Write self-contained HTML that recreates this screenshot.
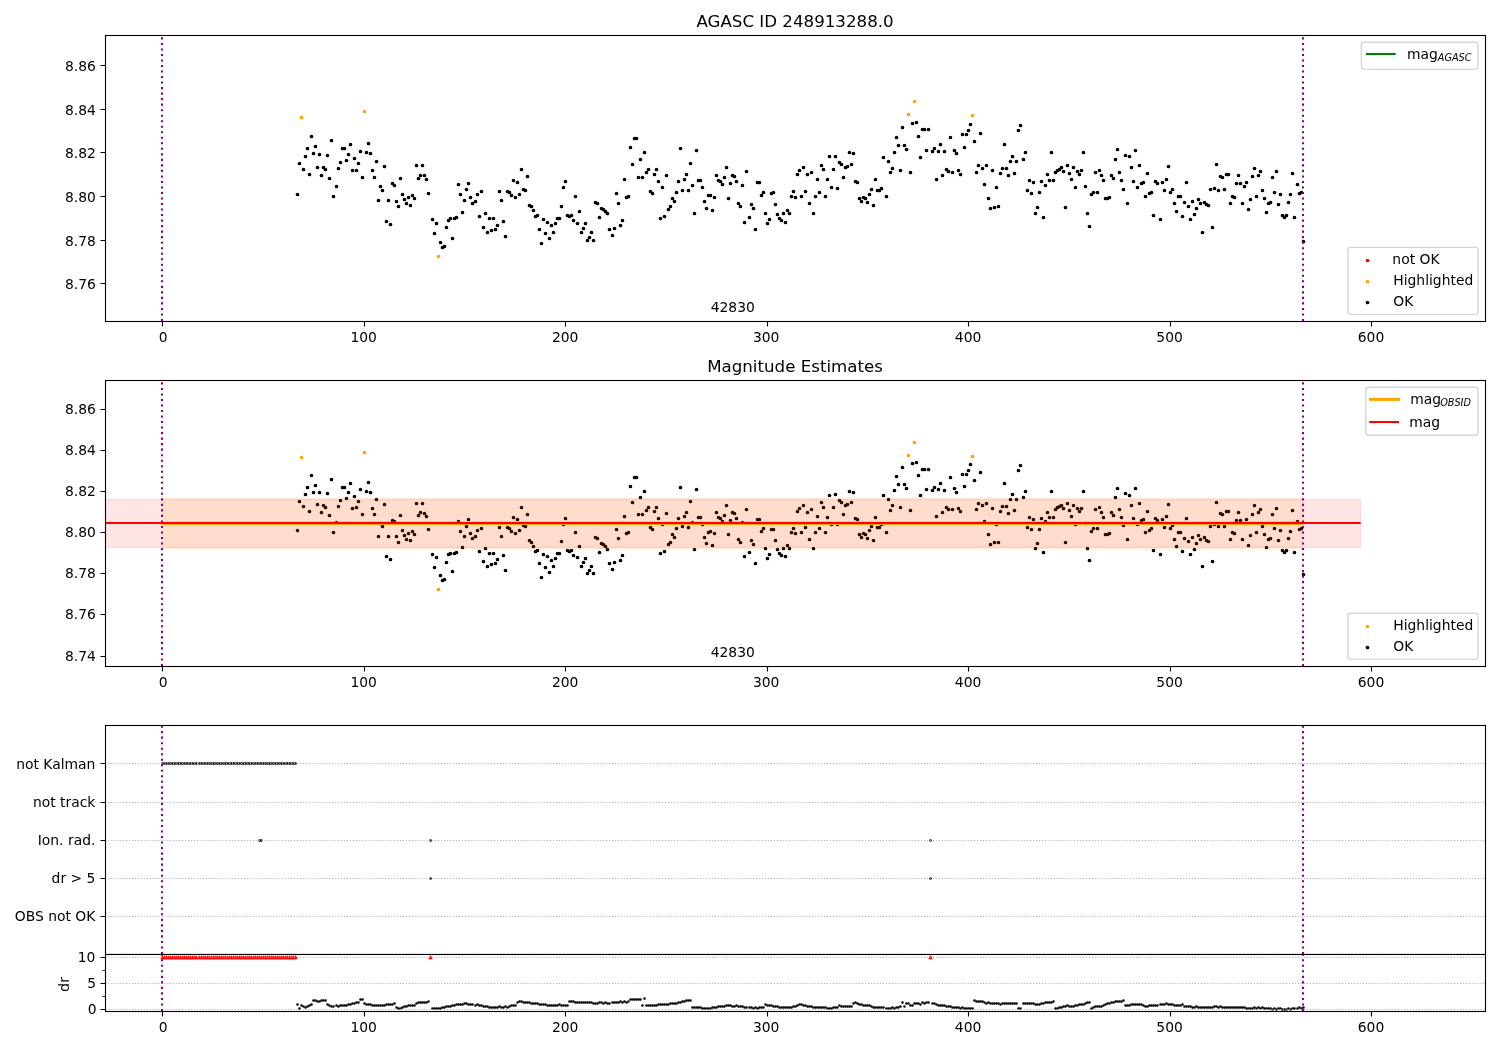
<!DOCTYPE html>
<html lang="en">
<head>
<meta charset="utf-8">
<title>AGASC ID 248913288.0 magnitude estimates</title>
<style>html,body{margin:0;padding:0;background:#fff}body{width:1500px;height:1050px;overflow:hidden}svg{display:block}</style>
</head>
<body>
<svg width="1500" height="1050" viewBox="0 0 1500 1050" font-family="'DejaVu Sans','Liberation Sans',sans-serif" fill="#000">
<rect width="1500" height="1050" fill="#fff"/>
<g id="panel1">
<path d="M301.5 117.5h0M438.5 256.5h0M914.5 101.5h0" stroke="#ffa500" stroke-width="3.7" stroke-linecap="round" fill="none"/>
<path d="M364.5 111.5h0M908.5 114.5h0M972.5 115.5h0" stroke="#ffa500" stroke-width="3.7" stroke-linecap="round" fill="none"/>
<path d="M297.5 194.5h0M303.5 169.5h0M307.5 148.5h0M311.5 136.5h0M315.5 146.5h0M319.5 154.5h0M323.5 167.5h0M327.5 155.5h0M331.5 140.5h0M336.5 186.5h0M340.5 162.5h0M344.5 148.5h0M348.5 154.5h0M352.5 170.5h0M356.5 170.5h0M360.5 151.5h0M366.5 152.5h0M370.5 153.5h0M374.5 177.5h0M378.5 200.5h0M382.5 190.5h0M386.5 221.5h0M390.5 224.5h0M394.5 185.5h0M398.5 206.5h0M402.5 194.5h0M406.5 203.5h0M410.5 205.5h0M414.5 198.5h0M418.5 178.5h0M422.5 165.5h0M426.5 179.5h0M432.5 219.5h0M436.5 223.5h0M442.5 247.5h0M446.5 227.5h0M450.5 218.5h0M454.5 218.5h0M458.5 184.5h0M462.5 212.5h0M466.5 189.5h0M470.5 197.5h0M475.5 201.5h0M479.5 216.5h0M483.5 227.5h0M487.5 232.5h0M491.5 230.5h0M495.5 229.5h0M499.5 191.5h0M503.5 221.5h0M507.5 191.5h0M511.5 195.5h0M515.5 197.5h0M519.5 194.5h0M523.5 189.5h0M527.5 176.5h0M531.5 206.5h0M535.5 216.5h0M539.5 229.5h0M543.5 219.5h0M547.5 222.5h0M551.5 225.5h0M555.5 223.5h0M559.5 218.5h0M563.5 187.5h0M567.5 215.5h0M571.5 215.5h0M575.5 196.5h0M579.5 211.5h0M583.5 228.5h0M587.5 240.5h0M591.5 232.5h0M595.5 202.5h0M599.5 217.5h0M603.5 209.5h0M607.5 213.5h0M612.5 235.5h0M616.5 193.5h0M620.5 225.5h0M624.5 179.5h0M628.5 196.5h0M632.5 164.5h0M636.5 138.5h0M640.5 159.5h0M644.5 152.5h0M648.5 169.5h0M652.5 193.5h0M656.5 169.5h0M660.5 218.5h0M664.5 216.5h0M668.5 209.5h0M672.5 198.5h0M676.5 192.5h0M680.5 148.5h0M684.5 179.5h0M688.5 190.5h0M692.5 185.5h0M696.5 150.5h0M700.5 180.5h0M704.5 201.5h0M708.5 195.5h0M712.5 210.5h0M716.5 175.5h0M720.5 181.5h0M724.5 177.5h0M728.5 198.5h0M732.5 175.5h0M736.5 181.5h0M740.5 206.5h0M744.5 222.5h0M749.5 217.5h0M753.5 208.5h0M757.5 182.5h0M761.5 195.5h0M765.5 213.5h0M769.5 219.5h0M773.5 192.5h0M777.5 214.5h0M781.5 220.5h0M785.5 222.5h0M789.5 213.5h0M793.5 191.5h0M797.5 174.5h0M801.5 196.5h0M805.5 191.5h0M809.5 203.5h0M813.5 213.5h0M817.5 179.5h0M821.5 165.5h0M825.5 196.5h0M829.5 156.5h0M833.5 169.5h0M837.5 188.5h0M841.5 164.5h0M845.5 167.5h0M849.5 152.5h0M853.5 153.5h0M857.5 182.5h0M861.5 201.5h0M865.5 198.5h0M869.5 194.5h0M873.5 205.5h0M877.5 190.5h0M881.5 188.5h0M886.5 196.5h0M890.5 172.5h0M894.5 152.5h0M898.5 145.5h0M902.5 127.5h0M906.5 149.5h0M912.5 123.5h0M918.5 136.5h0M922.5 129.5h0M926.5 150.5h0M932.5 151.5h0M936.5 179.5h0M940.5 144.5h0M944.5 151.5h0M948.5 171.5h0M952.5 172.5h0M956.5 153.5h0M960.5 174.5h0M964.5 147.5h0M968.5 130.5h0M974.5 141.5h0M978.5 165.5h0M982.5 168.5h0M986.5 165.5h0M990.5 208.5h0M994.5 207.5h0M998.5 206.5h0M1002.5 168.5h0M1006.5 168.5h0M1010.5 161.5h0M1014.5 173.5h0M1018.5 130.5h0M1023.5 159.5h0M1027.5 190.5h0M1031.5 193.5h0M1035.5 213.5h0M1039.5 192.5h0M1043.5 217.5h0M1047.5 174.5h0M1051.5 152.5h0M1055.5 172.5h0M1059.5 169.5h0M1063.5 171.5h0M1067.5 165.5h0M1071.5 179.5h0M1075.5 187.5h0M1079.5 174.5h0M1083.5 152.5h0M1087.5 213.5h0M1091.5 194.5h0M1095.5 172.5h0M1099.5 170.5h0M1103.5 180.5h0M1107.5 198.5h0M1111.5 175.5h0M1115.5 159.5h0M1119.5 172.5h0M1123.5 189.5h0M1127.5 203.5h0M1131.5 167.5h0M1135.5 150.5h0M1139.5 165.5h0M1143.5 182.5h0M1147.5 173.5h0M1151.5 192.5h0M1155.5 181.5h0M1160.5 219.5h0M1164.5 190.5h0M1168.5 166.5h0M1172.5 189.5h0M1176.5 211.5h0M1180.5 196.5h0M1184.5 202.5h0M1188.5 206.5h0M1192.5 201.5h0M1196.5 208.5h0M1200.5 203.5h0M1204.5 202.5h0M1208.5 205.5h0M1212.5 227.5h0M1216.5 164.5h0M1220.5 176.5h0M1224.5 189.5h0M1228.5 174.5h0M1232.5 196.5h0M1236.5 183.5h0M1240.5 183.5h0M1244.5 186.5h0M1248.5 209.5h0M1252.5 176.5h0M1256.5 196.5h0M1260.5 171.5h0M1264.5 198.5h0M1268.5 203.5h0M1272.5 177.5h0M1276.5 171.5h0M1280.5 194.5h0M1284.5 217.5h0M1288.5 202.5h0M1292.5 173.5h0M1297.5 184.5h0M1301.5 192.5h0" stroke="#000" stroke-width="3.7" stroke-linecap="round" fill="none"/>
<path d="M299.5 163.5h0M305.5 156.5h0M309.5 174.5h0M313.5 153.5h0M317.5 167.5h0M321.5 175.5h0M325.5 169.5h0M329.5 178.5h0M333.5 196.5h0M338.5 168.5h0M342.5 148.5h0M346.5 160.5h0M350.5 144.5h0M354.5 158.5h0M358.5 163.5h0M362.5 177.5h0M368.5 143.5h0M372.5 170.5h0M376.5 161.5h0M380.5 186.5h0M384.5 166.5h0M388.5 200.5h0M392.5 183.5h0M396.5 201.5h0M400.5 178.5h0M404.5 199.5h0M408.5 197.5h0M412.5 195.5h0M416.5 165.5h0M420.5 175.5h0M424.5 175.5h0M428.5 193.5h0M434.5 233.5h0M440.5 242.5h0M444.5 246.5h0M448.5 220.5h0M452.5 238.5h0M456.5 217.5h0M460.5 194.5h0M464.5 200.5h0M468.5 183.5h0M472.5 203.5h0M477.5 194.5h0M481.5 191.5h0M485.5 213.5h0M489.5 218.5h0M493.5 218.5h0M497.5 225.5h0M501.5 200.5h0M505.5 236.5h0M509.5 192.5h0M513.5 180.5h0M517.5 182.5h0M521.5 169.5h0M525.5 190.5h0M529.5 205.5h0M533.5 210.5h0M537.5 215.5h0M541.5 243.5h0M545.5 233.5h0M549.5 238.5h0M553.5 232.5h0M557.5 218.5h0M561.5 206.5h0M565.5 181.5h0M569.5 216.5h0M573.5 220.5h0M577.5 223.5h0M581.5 232.5h0M585.5 223.5h0M589.5 237.5h0M593.5 240.5h0M597.5 203.5h0M601.5 208.5h0M605.5 211.5h0M609.5 229.5h0M614.5 228.5h0M618.5 203.5h0M622.5 220.5h0M626.5 197.5h0M630.5 147.5h0M634.5 138.5h0M638.5 177.5h0M642.5 177.5h0M646.5 172.5h0M650.5 191.5h0M654.5 174.5h0M658.5 181.5h0M662.5 187.5h0M666.5 175.5h0M670.5 206.5h0M674.5 201.5h0M678.5 181.5h0M682.5 190.5h0M686.5 174.5h0M690.5 163.5h0M694.5 213.5h0M698.5 180.5h0M702.5 187.5h0M706.5 208.5h0M710.5 195.5h0M714.5 197.5h0M718.5 180.5h0M722.5 184.5h0M726.5 167.5h0M730.5 183.5h0M734.5 176.5h0M738.5 203.5h0M742.5 185.5h0M746.5 171.5h0M751.5 204.5h0M755.5 229.5h0M759.5 182.5h0M763.5 192.5h0M767.5 223.5h0M771.5 193.5h0M775.5 204.5h0M779.5 218.5h0M783.5 213.5h0M787.5 210.5h0M791.5 196.5h0M795.5 197.5h0M799.5 170.5h0M803.5 167.5h0M807.5 174.5h0M811.5 172.5h0M815.5 196.5h0M819.5 192.5h0M823.5 169.5h0M827.5 179.5h0M831.5 187.5h0M835.5 156.5h0M839.5 162.5h0M843.5 177.5h0M847.5 166.5h0M851.5 164.5h0M855.5 181.5h0M859.5 198.5h0M863.5 197.5h0M867.5 202.5h0M871.5 189.5h0M875.5 179.5h0M879.5 190.5h0M883.5 157.5h0M888.5 161.5h0M892.5 168.5h0M896.5 137.5h0M900.5 170.5h0M904.5 145.5h0M910.5 172.5h0M916.5 122.5h0M920.5 157.5h0M924.5 129.5h0M928.5 129.5h0M934.5 148.5h0M938.5 151.5h0M942.5 175.5h0M946.5 169.5h0M950.5 137.5h0M954.5 150.5h0M958.5 170.5h0M962.5 134.5h0M966.5 134.5h0M970.5 124.5h0M976.5 172.5h0M980.5 133.5h0M984.5 184.5h0M988.5 198.5h0M992.5 170.5h0M996.5 187.5h0M1000.5 173.5h0M1004.5 144.5h0M1008.5 175.5h0M1012.5 156.5h0M1016.5 161.5h0M1020.5 125.5h0M1025.5 152.5h0M1029.5 180.5h0M1033.5 182.5h0M1037.5 207.5h0M1041.5 181.5h0M1045.5 185.5h0M1049.5 180.5h0M1053.5 180.5h0M1057.5 170.5h0M1061.5 167.5h0M1065.5 207.5h0M1069.5 173.5h0M1073.5 167.5h0M1077.5 171.5h0M1081.5 170.5h0M1085.5 186.5h0M1089.5 226.5h0M1093.5 192.5h0M1097.5 192.5h0M1101.5 175.5h0M1105.5 198.5h0M1109.5 197.5h0M1113.5 178.5h0M1117.5 149.5h0M1121.5 180.5h0M1125.5 155.5h0M1129.5 156.5h0M1133.5 181.5h0M1137.5 187.5h0M1141.5 183.5h0M1145.5 196.5h0M1149.5 193.5h0M1153.5 215.5h0M1157.5 183.5h0M1162.5 182.5h0M1166.5 179.5h0M1170.5 192.5h0M1174.5 203.5h0M1178.5 196.5h0M1182.5 216.5h0M1186.5 182.5h0M1190.5 219.5h0M1194.5 214.5h0M1198.5 199.5h0M1202.5 232.5h0M1206.5 204.5h0M1210.5 189.5h0M1214.5 188.5h0M1218.5 190.5h0M1222.5 177.5h0M1226.5 174.5h0M1230.5 203.5h0M1234.5 197.5h0M1238.5 175.5h0M1242.5 203.5h0M1246.5 182.5h0M1250.5 199.5h0M1254.5 168.5h0M1258.5 175.5h0M1262.5 190.5h0M1266.5 212.5h0M1270.5 202.5h0M1274.5 192.5h0M1278.5 204.5h0M1282.5 215.5h0M1286.5 215.5h0M1290.5 194.5h0M1294.5 217.5h0M1299.5 193.5h0M1303.5 241.5h0" stroke="#000" stroke-width="3.7" stroke-linecap="round" fill="none"/>
<path d="M162.5 321.5v5M364.5 321.5v5M565.5 321.5v5M767.5 321.5v5M968.5 321.5v5M1170.5 321.5v5M1371.5 321.5v5" stroke="#000" stroke-width="1.11" fill="none"/>
<text x="163.24" y="342" font-size="13.89" text-anchor="middle">0</text>
<text x="363.71" y="342" font-size="13.89" text-anchor="middle">100</text>
<text x="565.17" y="342" font-size="13.89" text-anchor="middle">200</text>
<text x="766.14" y="342" font-size="13.89" text-anchor="middle">300</text>
<text x="968.11" y="342" font-size="13.89" text-anchor="middle">400</text>
<text x="1169.58" y="342" font-size="13.89" text-anchor="middle">500</text>
<text x="1371.04" y="342" font-size="13.89" text-anchor="middle">600</text>
<path d="M105.5 283.5h-5M105.5 240.5h-5M105.5 196.5h-5M105.5 152.5h-5M105.5 109.5h-5M105.5 65.5h-5" stroke="#000" stroke-width="1.11" fill="none"/>
<text x="95.88" y="289" font-size="13.89" text-anchor="end">8.76</text>
<text x="95.88" y="246" font-size="13.89" text-anchor="end">8.78</text>
<text x="95.88" y="202" font-size="13.89" text-anchor="end">8.80</text>
<text x="95.88" y="158" font-size="13.89" text-anchor="end">8.82</text>
<text x="95.88" y="115" font-size="13.89" text-anchor="end">8.84</text>
<text x="95.88" y="71" font-size="13.89" text-anchor="end">8.86</text>
<path d="M162 321V35" stroke="#800080" stroke-width="2.08" stroke-dasharray="2.0833 3.4375" fill="none"/>
<path d="M1303 321V35" stroke="#800080" stroke-width="2.08" stroke-dasharray="2.0833 3.4375" fill="none"/>
<rect x="105.5" y="35.5" width="1380" height="286" fill="none" stroke="#000" stroke-width="1.11"/>
<text x="732.8" y="312" font-size="13.89" text-anchor="middle">42830</text>
<text x="795.05" y="26.5" font-size="16.67" text-anchor="middle">AGASC ID 248913288.0</text>
<rect x="1347.93" y="247.34" width="130.13" height="67" rx="2.78" fill="#fff" fill-opacity="0.8" stroke="#ccc" stroke-opacity="0.8" stroke-width="1.39"/>
<path d="M1367.5 260.5h0" stroke="#f00" stroke-width="3.7" stroke-linecap="round" fill="none"/>
<text x="1392.37" y="264" font-size="13.89" text-anchor="start">not OK</text>
<path d="M1367.5 281.5h0" stroke="#ffa500" stroke-width="3.7" stroke-linecap="round" fill="none"/>
<text x="1393.27" y="285" font-size="13.89" text-anchor="start">Highlighted</text>
<path d="M1367.5 302.5h0" stroke="#000" stroke-width="3.7" stroke-linecap="round" fill="none"/>
<text x="1393.27" y="306" font-size="13.89" text-anchor="start">OK</text>
<rect x="1361.33" y="42.24" width="116.73" height="27.12" rx="2.78" fill="#fff" fill-opacity="0.8" stroke="#ccc" stroke-opacity="0.8" stroke-width="1.39"/>
<path d="M1366.88 54H1394.66" stroke="#008000" stroke-width="2.08" stroke-linecap="square" fill="none"/>
<text x="1406.97" y="59" font-size="13.89" text-anchor="start">mag<tspan x="1437.76" y="61.28" font-size="9.72" font-style="oblique">AGASC</tspan></text>
</g>
<g id="panel2">
<path d="M301.5 457.5h0M438.5 589.5h0M914.5 442.5h0" stroke="#ffa500" stroke-width="3.7" stroke-linecap="round" fill="none"/>
<path d="M364.5 452.5h0M908.5 455.5h0M972.5 456.5h0" stroke="#ffa500" stroke-width="3.7" stroke-linecap="round" fill="none"/>
<path d="M297.5 530.5h0M303.5 506.5h0M307.5 487.5h0M311.5 475.5h0M315.5 485.5h0M319.5 492.5h0M323.5 505.5h0M327.5 493.5h0M331.5 479.5h0M336.5 522.5h0M340.5 500.5h0M344.5 487.5h0M348.5 492.5h0M352.5 508.5h0M356.5 507.5h0M360.5 489.5h0M366.5 491.5h0M370.5 492.5h0M374.5 514.5h0M378.5 536.5h0M382.5 526.5h0M386.5 556.5h0M390.5 559.5h0M394.5 521.5h0M398.5 542.5h0M402.5 530.5h0M406.5 539.5h0M410.5 540.5h0M414.5 534.5h0M418.5 515.5h0M422.5 503.5h0M426.5 516.5h0M432.5 554.5h0M436.5 557.5h0M442.5 580.5h0M446.5 562.5h0M450.5 553.5h0M454.5 553.5h0M458.5 521.5h0M462.5 547.5h0M466.5 526.5h0M470.5 533.5h0M475.5 536.5h0M479.5 551.5h0M483.5 561.5h0M487.5 566.5h0M491.5 564.5h0M495.5 563.5h0M499.5 527.5h0M503.5 555.5h0M507.5 527.5h0M511.5 531.5h0M515.5 533.5h0M519.5 530.5h0M523.5 525.5h0M527.5 514.5h0M531.5 542.5h0M535.5 551.5h0M539.5 563.5h0M543.5 554.5h0M547.5 556.5h0M551.5 560.5h0M555.5 558.5h0M559.5 553.5h0M563.5 524.5h0M567.5 550.5h0M571.5 550.5h0M575.5 532.5h0M579.5 546.5h0M583.5 562.5h0M587.5 573.5h0M591.5 566.5h0M595.5 537.5h0M599.5 552.5h0M603.5 544.5h0M607.5 549.5h0M612.5 569.5h0M616.5 529.5h0M620.5 560.5h0M624.5 516.5h0M628.5 532.5h0M632.5 502.5h0M636.5 477.5h0M640.5 497.5h0M644.5 491.5h0M648.5 507.5h0M652.5 529.5h0M656.5 507.5h0M660.5 553.5h0M664.5 551.5h0M668.5 544.5h0M672.5 534.5h0M676.5 528.5h0M680.5 487.5h0M684.5 516.5h0M688.5 527.5h0M692.5 522.5h0M696.5 489.5h0M700.5 517.5h0M704.5 537.5h0M708.5 532.5h0M712.5 545.5h0M716.5 512.5h0M720.5 518.5h0M724.5 515.5h0M728.5 534.5h0M732.5 512.5h0M736.5 518.5h0M740.5 542.5h0M744.5 556.5h0M749.5 552.5h0M753.5 544.5h0M757.5 519.5h0M761.5 531.5h0M765.5 548.5h0M769.5 554.5h0M773.5 529.5h0M777.5 549.5h0M781.5 555.5h0M785.5 556.5h0M789.5 548.5h0M793.5 528.5h0M797.5 511.5h0M801.5 532.5h0M805.5 527.5h0M809.5 539.5h0M813.5 548.5h0M817.5 516.5h0M821.5 502.5h0M825.5 532.5h0M829.5 495.5h0M833.5 507.5h0M837.5 524.5h0M841.5 502.5h0M845.5 505.5h0M849.5 491.5h0M853.5 492.5h0M857.5 519.5h0M861.5 537.5h0M865.5 534.5h0M869.5 530.5h0M873.5 540.5h0M877.5 527.5h0M881.5 524.5h0M886.5 532.5h0M890.5 510.5h0M894.5 490.5h0M898.5 484.5h0M902.5 467.5h0M906.5 488.5h0M912.5 463.5h0M918.5 475.5h0M922.5 469.5h0M926.5 489.5h0M932.5 490.5h0M936.5 516.5h0M940.5 483.5h0M944.5 490.5h0M948.5 509.5h0M952.5 509.5h0M956.5 492.5h0M960.5 511.5h0M964.5 486.5h0M968.5 470.5h0M974.5 480.5h0M978.5 503.5h0M982.5 505.5h0M986.5 503.5h0M990.5 544.5h0M994.5 542.5h0M998.5 542.5h0M1002.5 506.5h0M1006.5 506.5h0M1010.5 499.5h0M1014.5 510.5h0M1018.5 470.5h0M1023.5 497.5h0M1027.5 527.5h0M1031.5 529.5h0M1035.5 548.5h0M1039.5 529.5h0M1043.5 552.5h0M1047.5 512.5h0M1051.5 491.5h0M1055.5 509.5h0M1059.5 506.5h0M1063.5 508.5h0M1067.5 503.5h0M1071.5 516.5h0M1075.5 524.5h0M1079.5 511.5h0M1083.5 491.5h0M1087.5 548.5h0M1091.5 531.5h0M1095.5 509.5h0M1099.5 507.5h0M1103.5 517.5h0M1107.5 534.5h0M1111.5 512.5h0M1115.5 497.5h0M1119.5 509.5h0M1123.5 525.5h0M1127.5 539.5h0M1131.5 505.5h0M1135.5 488.5h0M1139.5 503.5h0M1143.5 519.5h0M1147.5 511.5h0M1151.5 528.5h0M1155.5 518.5h0M1160.5 554.5h0M1164.5 527.5h0M1168.5 504.5h0M1172.5 525.5h0M1176.5 546.5h0M1180.5 532.5h0M1184.5 538.5h0M1188.5 541.5h0M1192.5 537.5h0M1196.5 543.5h0M1200.5 539.5h0M1204.5 537.5h0M1208.5 541.5h0M1212.5 561.5h0M1216.5 502.5h0M1220.5 513.5h0M1224.5 526.5h0M1228.5 511.5h0M1232.5 532.5h0M1236.5 520.5h0M1240.5 520.5h0M1244.5 523.5h0M1248.5 545.5h0M1252.5 514.5h0M1256.5 532.5h0M1260.5 509.5h0M1264.5 534.5h0M1268.5 539.5h0M1272.5 514.5h0M1276.5 508.5h0M1280.5 530.5h0M1284.5 552.5h0M1288.5 538.5h0M1292.5 510.5h0M1297.5 521.5h0M1301.5 528.5h0" stroke="#000" stroke-width="3.7" stroke-linecap="round" fill="none"/>
<path d="M299.5 501.5h0M305.5 494.5h0M309.5 511.5h0M313.5 492.5h0M317.5 504.5h0M321.5 512.5h0M325.5 507.5h0M329.5 515.5h0M333.5 532.5h0M338.5 506.5h0M342.5 487.5h0M346.5 498.5h0M350.5 483.5h0M354.5 496.5h0M358.5 501.5h0M362.5 514.5h0M368.5 482.5h0M372.5 508.5h0M376.5 499.5h0M380.5 523.5h0M384.5 504.5h0M388.5 536.5h0M392.5 520.5h0M396.5 536.5h0M400.5 515.5h0M404.5 535.5h0M408.5 533.5h0M412.5 531.5h0M416.5 503.5h0M420.5 512.5h0M424.5 513.5h0M428.5 529.5h0M434.5 567.5h0M440.5 575.5h0M444.5 579.5h0M448.5 554.5h0M452.5 571.5h0M456.5 552.5h0M460.5 531.5h0M464.5 536.5h0M468.5 519.5h0M472.5 538.5h0M477.5 530.5h0M481.5 528.5h0M485.5 548.5h0M489.5 553.5h0M493.5 553.5h0M497.5 559.5h0M501.5 536.5h0M505.5 570.5h0M509.5 528.5h0M513.5 517.5h0M517.5 519.5h0M521.5 507.5h0M525.5 526.5h0M529.5 540.5h0M533.5 546.5h0M537.5 550.5h0M541.5 577.5h0M545.5 567.5h0M549.5 572.5h0M553.5 566.5h0M557.5 553.5h0M561.5 541.5h0M565.5 518.5h0M569.5 551.5h0M573.5 555.5h0M577.5 557.5h0M581.5 566.5h0M585.5 558.5h0M589.5 570.5h0M593.5 573.5h0M597.5 538.5h0M601.5 543.5h0M605.5 546.5h0M609.5 563.5h0M614.5 562.5h0M618.5 538.5h0M622.5 555.5h0M626.5 533.5h0M630.5 486.5h0M634.5 477.5h0M638.5 514.5h0M642.5 514.5h0M646.5 510.5h0M650.5 527.5h0M654.5 511.5h0M658.5 518.5h0M662.5 524.5h0M666.5 513.5h0M670.5 542.5h0M674.5 537.5h0M678.5 518.5h0M682.5 526.5h0M686.5 512.5h0M690.5 501.5h0M694.5 549.5h0M698.5 517.5h0M702.5 524.5h0M706.5 543.5h0M710.5 531.5h0M714.5 533.5h0M718.5 517.5h0M722.5 521.5h0M726.5 505.5h0M730.5 520.5h0M734.5 513.5h0M738.5 539.5h0M742.5 522.5h0M746.5 509.5h0M751.5 540.5h0M755.5 563.5h0M759.5 519.5h0M763.5 528.5h0M767.5 558.5h0M771.5 529.5h0M775.5 540.5h0M779.5 553.5h0M783.5 548.5h0M787.5 545.5h0M791.5 532.5h0M795.5 533.5h0M799.5 508.5h0M803.5 505.5h0M807.5 512.5h0M811.5 509.5h0M815.5 532.5h0M819.5 528.5h0M823.5 507.5h0M827.5 517.5h0M831.5 524.5h0M835.5 494.5h0M839.5 500.5h0M843.5 514.5h0M847.5 504.5h0M851.5 502.5h0M855.5 518.5h0M859.5 534.5h0M863.5 533.5h0M867.5 538.5h0M871.5 526.5h0M875.5 517.5h0M879.5 527.5h0M883.5 495.5h0M888.5 499.5h0M892.5 505.5h0M896.5 476.5h0M900.5 507.5h0M904.5 484.5h0M910.5 510.5h0M916.5 462.5h0M920.5 495.5h0M924.5 469.5h0M928.5 469.5h0M934.5 487.5h0M938.5 489.5h0M942.5 512.5h0M946.5 507.5h0M950.5 477.5h0M954.5 488.5h0M958.5 508.5h0M962.5 474.5h0M966.5 474.5h0M970.5 464.5h0M976.5 509.5h0M980.5 472.5h0M984.5 521.5h0M988.5 534.5h0M992.5 508.5h0M996.5 524.5h0M1000.5 511.5h0M1004.5 483.5h0M1008.5 513.5h0M1012.5 494.5h0M1016.5 499.5h0M1020.5 465.5h0M1025.5 491.5h0M1029.5 517.5h0M1033.5 519.5h0M1037.5 543.5h0M1041.5 518.5h0M1045.5 521.5h0M1049.5 517.5h0M1053.5 517.5h0M1057.5 507.5h0M1061.5 505.5h0M1065.5 542.5h0M1069.5 510.5h0M1073.5 505.5h0M1077.5 508.5h0M1081.5 508.5h0M1085.5 523.5h0M1089.5 560.5h0M1093.5 528.5h0M1097.5 528.5h0M1101.5 512.5h0M1105.5 534.5h0M1109.5 533.5h0M1113.5 515.5h0M1117.5 488.5h0M1121.5 517.5h0M1125.5 493.5h0M1129.5 495.5h0M1133.5 518.5h0M1137.5 524.5h0M1141.5 520.5h0M1145.5 532.5h0M1149.5 530.5h0M1153.5 550.5h0M1157.5 520.5h0M1162.5 519.5h0M1166.5 516.5h0M1170.5 528.5h0M1174.5 539.5h0M1178.5 532.5h0M1182.5 551.5h0M1186.5 518.5h0M1190.5 554.5h0M1194.5 549.5h0M1198.5 535.5h0M1202.5 566.5h0M1206.5 540.5h0M1210.5 526.5h0M1214.5 524.5h0M1218.5 526.5h0M1222.5 514.5h0M1226.5 511.5h0M1230.5 539.5h0M1234.5 533.5h0M1238.5 512.5h0M1242.5 539.5h0M1246.5 519.5h0M1250.5 535.5h0M1254.5 505.5h0M1258.5 512.5h0M1262.5 526.5h0M1266.5 547.5h0M1270.5 538.5h0M1274.5 528.5h0M1278.5 540.5h0M1282.5 550.5h0M1286.5 550.5h0M1290.5 531.5h0M1294.5 552.5h0M1299.5 529.5h0M1303.5 574.5h0" stroke="#000" stroke-width="3.7" stroke-linecap="round" fill="none"/>
<rect x="162.5" y="498.5" width="1141" height="50" fill="#ffa500" fill-opacity="0.1" stroke="#ffa500" stroke-opacity="0.1" stroke-width="1.39"/>
<path d="M105.5 499.5H1360.5V547.5H105.5z" fill="#f00" fill-opacity="0.1"/>
<path d="M105.5 499.5H1360.5V547.5H105.5" fill="none" stroke="#f00" stroke-opacity="0.1" stroke-width="1.39"/>
<path d="M162.5 666.5v5M364.5 666.5v5M565.5 666.5v5M767.5 666.5v5M968.5 666.5v5M1170.5 666.5v5M1371.5 666.5v5" stroke="#000" stroke-width="1.11" fill="none"/>
<text x="163.24" y="687" font-size="13.89" text-anchor="middle">0</text>
<text x="363.71" y="687" font-size="13.89" text-anchor="middle">100</text>
<text x="565.17" y="687" font-size="13.89" text-anchor="middle">200</text>
<text x="766.14" y="687" font-size="13.89" text-anchor="middle">300</text>
<text x="968.11" y="687" font-size="13.89" text-anchor="middle">400</text>
<text x="1169.58" y="687" font-size="13.89" text-anchor="middle">500</text>
<text x="1371.04" y="687" font-size="13.89" text-anchor="middle">600</text>
<path d="M105.5 656.5h-5M105.5 614.5h-5M105.5 573.5h-5M105.5 532.5h-5M105.5 491.5h-5M105.5 450.5h-5M105.5 409.5h-5" stroke="#000" stroke-width="1.11" fill="none"/>
<text x="95.88" y="661" font-size="13.89" text-anchor="end">8.74</text>
<text x="95.88" y="619" font-size="13.89" text-anchor="end">8.76</text>
<text x="95.88" y="578" font-size="13.89" text-anchor="end">8.78</text>
<text x="95.88" y="537" font-size="13.89" text-anchor="end">8.80</text>
<text x="95.88" y="496" font-size="13.89" text-anchor="end">8.82</text>
<text x="95.88" y="455" font-size="13.89" text-anchor="end">8.84</text>
<text x="95.88" y="414" font-size="13.89" text-anchor="end">8.86</text>
<path d="M162 666V380" stroke="#800080" stroke-width="2.08" stroke-dasharray="2.0833 3.4375" fill="none"/>
<path d="M1303 666V380" stroke="#800080" stroke-width="2.08" stroke-dasharray="2.0833 3.4375" fill="none"/>
<path d="M162.24 523.4H1302.55" stroke="#ffa500" stroke-width="3.2" fill="none"/>
<path d="M105.5 523H1360.66" stroke="#f00" stroke-width="2.2" fill="none"/>
<rect x="105.5" y="380.5" width="1380" height="286" fill="none" stroke="#000" stroke-width="1.11"/>
<text x="732.8" y="657" font-size="13.89" text-anchor="middle">42830</text>
<text x="795.05" y="371.5" font-size="16.67" text-anchor="middle">Magnitude Estimates</text>
<rect x="1347.93" y="613.28" width="130.13" height="46.06" rx="2.78" fill="#fff" fill-opacity="0.8" stroke="#ccc" stroke-opacity="0.8" stroke-width="1.39"/>
<path d="M1367.5 626.5h0" stroke="#ffa500" stroke-width="3.7" stroke-linecap="round" fill="none"/>
<text x="1393.27" y="630" font-size="13.89" text-anchor="start">Highlighted</text>
<path d="M1367.5 647.5h0" stroke="#000" stroke-width="3.7" stroke-linecap="round" fill="none"/>
<text x="1393.27" y="651" font-size="13.89" text-anchor="start">OK</text>
<rect x="1365.7" y="387.24" width="112.36" height="48.06" rx="2.78" fill="#fff" fill-opacity="0.8" stroke="#ccc" stroke-opacity="0.8" stroke-width="1.39"/>
<path d="M1369 399.4H1400" stroke="#ffa500" stroke-width="3" fill="none"/>
<text x="1410.15" y="404" font-size="13.89" text-anchor="start">mag<tspan x="1440.14" y="406.28" font-size="9.72" font-style="oblique">OBSID</tspan></text>
<path d="M1370.26 422H1398.04" stroke="#f00" stroke-width="2.08" stroke-linecap="square" fill="none"/>
<text x="1409.15" y="427" font-size="13.89" text-anchor="start">mag</text>
</g>
<g id="panel3">
<path d="M430.5 878.5h0" stroke="#000" stroke-width="2.6" stroke-linecap="round" fill="none"/>
<path d="M930.5 878.5h0" stroke="#000" stroke-width="2.6" stroke-linecap="round" fill="none"/>
<path d="M259.5 840.5h0M430.5 840.5h0" stroke="#000" stroke-width="2.6" stroke-linecap="round" fill="none"/>
<path d="M261.5 840.5h0M930.5 840.5h0" stroke="#000" stroke-width="2.6" stroke-linecap="round" fill="none"/>
<path d="M162.5 763.5h0M166.5 763.5h0M170.5 763.5h0M174.5 763.5h0M178.5 763.5h0M182.5 763.5h0M186.5 763.5h0M190.5 763.5h0M194.5 763.5h0M199.5 763.5h0M203.5 763.5h0M207.5 763.5h0M211.5 763.5h0M215.5 763.5h0M219.5 763.5h0M223.5 763.5h0M227.5 763.5h0M231.5 763.5h0M235.5 763.5h0M239.5 763.5h0M243.5 763.5h0M247.5 763.5h0M251.5 763.5h0M255.5 763.5h0M259.5 763.5h0M263.5 763.5h0M267.5 763.5h0M271.5 763.5h0M275.5 763.5h0M279.5 763.5h0M283.5 763.5h0M287.5 763.5h0M291.5 763.5h0M295.5 763.5h0" stroke="#000" stroke-width="2.6" stroke-linecap="round" fill="none"/>
<path d="M164.5 763.5h0M168.5 763.5h0M172.5 763.5h0M176.5 763.5h0M180.5 763.5h0M184.5 763.5h0M188.5 763.5h0M192.5 763.5h0M196.5 763.5h0M201.5 763.5h0M205.5 763.5h0M209.5 763.5h0M213.5 763.5h0M217.5 763.5h0M221.5 763.5h0M225.5 763.5h0M229.5 763.5h0M233.5 763.5h0M237.5 763.5h0M241.5 763.5h0M245.5 763.5h0M249.5 763.5h0M253.5 763.5h0M257.5 763.5h0M261.5 763.5h0M265.5 763.5h0M269.5 763.5h0M273.5 763.5h0M277.5 763.5h0M281.5 763.5h0M285.5 763.5h0M289.5 763.5h0M293.5 763.5h0" stroke="#000" stroke-width="2.6" stroke-linecap="round" fill="none"/>
<path d="M105.5 916.5H1485.5M105.5 878.5H1485.5M105.5 840.5H1485.5M105.5 802.5H1485.5M105.5 763.5H1485.5" stroke="#b0b0b0" stroke-width="1.11" stroke-dasharray="1.1111 1.8333" fill="none"/>
<path d="M105.5 916.5h-5M105.5 878.5h-5M105.5 840.5h-5M105.5 802.5h-5M105.5 763.5h-5" stroke="#000" stroke-width="1.11" fill="none"/>
<text x="95.38" y="921" font-size="13.89" text-anchor="end">OBS not OK</text>
<text x="95.38" y="883" font-size="13.89" text-anchor="end">dr &gt; 5</text>
<text x="95.38" y="845" font-size="13.89" text-anchor="end">Ion. rad.</text>
<text x="95.38" y="807" font-size="13.89" text-anchor="end">not track</text>
<text x="95.38" y="769" font-size="13.89" text-anchor="end">not Kalman</text>
<path d="M162 954V725" stroke="#800080" stroke-width="2.08" stroke-dasharray="2.0833 3.4375" fill="none"/>
<path d="M1303 954V725" stroke="#800080" stroke-width="2.08" stroke-dasharray="2.0833 3.4375" fill="none"/>
<rect x="105.5" y="725.5" width="1380" height="229" fill="none" stroke="#000" stroke-width="1.11"/>
</g>
<g id="panel_dr">
<rect x="105.1" y="954.08" width="1379.9" height="57.2" fill="#fff"/>
<path d="M297.5 1004.5h0M301.5 1005.5h0M305.5 1007.5h0M309.5 1005.5h0M313.5 1000.5h0M317.5 1001.5h0M321.5 1000.5h0M325.5 1000.5h0M329.5 1005.5h0M333.5 1006.5h0M338.5 1006.5h0M342.5 1005.5h0M346.5 1005.5h0M350.5 1004.5h0M354.5 1003.5h0M358.5 1002.5h0M362.5 999.5h0M366.5 1004.5h0M370.5 1004.5h0M374.5 1005.5h0M378.5 1005.5h0M382.5 1005.5h0M386.5 1004.5h0M390.5 1004.5h0M394.5 1003.5h0M398.5 1008.5h0M402.5 1007.5h0M406.5 1006.5h0M410.5 1005.5h0M414.5 1005.5h0M418.5 1002.5h0M422.5 1002.5h0M426.5 1002.5h0M432.5 1008.5h0M436.5 1008.5h0M440.5 1008.5h0M444.5 1007.5h0M448.5 1006.5h0M452.5 1005.5h0M456.5 1004.5h0M460.5 1004.5h0M464.5 1003.5h0M468.5 1004.5h0M472.5 1004.5h0M477.5 1004.5h0M481.5 1005.5h0M485.5 1006.5h0M489.5 1007.5h0M493.5 1007.5h0M497.5 1007.5h0M501.5 1007.5h0M505.5 1006.5h0M509.5 1006.5h0M513.5 1005.5h0M517.5 1002.5h0M521.5 1001.5h0M525.5 1002.5h0M529.5 1002.5h0M533.5 1003.5h0M537.5 1003.5h0M541.5 1004.5h0M545.5 1004.5h0M549.5 1005.5h0M553.5 1005.5h0M557.5 1005.5h0M561.5 1005.5h0M565.5 1005.5h0M569.5 1001.5h0M573.5 1001.5h0M577.5 1002.5h0M581.5 1002.5h0M585.5 1002.5h0M589.5 1002.5h0M593.5 1003.5h0M597.5 1003.5h0M601.5 1002.5h0M605.5 1002.5h0M609.5 1003.5h0M614.5 1002.5h0M618.5 1002.5h0M622.5 1002.5h0M626.5 1002.5h0M630.5 999.5h0M634.5 999.5h0M638.5 999.5h0M642.5 1005.5h0M646.5 1005.5h0M650.5 1005.5h0M654.5 1005.5h0M658.5 1004.5h0M662.5 1004.5h0M666.5 1004.5h0M670.5 1003.5h0M674.5 1003.5h0M678.5 1002.5h0M682.5 1001.5h0M686.5 1000.5h0M690.5 1000.5h0M694.5 1007.5h0M698.5 1007.5h0M702.5 1008.5h0M706.5 1008.5h0M710.5 1008.5h0M714.5 1007.5h0M718.5 1006.5h0M722.5 1006.5h0M726.5 1005.5h0M730.5 1005.5h0M734.5 1006.5h0M738.5 1006.5h0M742.5 1006.5h0M746.5 1007.5h0M751.5 1007.5h0M755.5 1007.5h0M759.5 1007.5h0M763.5 1007.5h0M767.5 1005.5h0M771.5 1005.5h0M775.5 1006.5h0M779.5 1007.5h0M783.5 1007.5h0M787.5 1007.5h0M791.5 1007.5h0M795.5 1006.5h0M799.5 1004.5h0M803.5 1005.5h0M807.5 1006.5h0M811.5 1006.5h0M815.5 1007.5h0M819.5 1007.5h0M823.5 1007.5h0M827.5 1008.5h0M831.5 1008.5h0M835.5 1007.5h0M839.5 1005.5h0M843.5 1006.5h0M847.5 1006.5h0M851.5 1006.5h0M855.5 1002.5h0M859.5 1004.5h0M863.5 1005.5h0M867.5 1005.5h0M871.5 1006.5h0M875.5 1007.5h0M879.5 1007.5h0M883.5 1007.5h0M888.5 1008.5h0M892.5 1007.5h0M896.5 1007.5h0M900.5 1006.5h0M904.5 1006.5h0M908.5 1003.5h0M912.5 1005.5h0M916.5 1003.5h0M920.5 1004.5h0M924.5 1003.5h0M928.5 1002.5h0M934.5 1003.5h0M938.5 1005.5h0M942.5 1005.5h0M946.5 1006.5h0M950.5 1006.5h0M954.5 1007.5h0M958.5 1007.5h0M962.5 1007.5h0M966.5 1008.5h0M970.5 1008.5h0M974.5 1000.5h0M978.5 1001.5h0M982.5 1001.5h0M986.5 1003.5h0M990.5 1003.5h0M994.5 1003.5h0M998.5 1003.5h0M1002.5 1003.5h0M1006.5 1003.5h0M1010.5 1003.5h0M1014.5 1003.5h0M1018.5 1008.5h0M1023.5 1003.5h0M1027.5 1003.5h0M1031.5 1003.5h0M1035.5 1004.5h0M1039.5 1004.5h0M1043.5 1003.5h0M1047.5 1002.5h0M1051.5 1002.5h0M1055.5 1008.5h0M1059.5 1007.5h0M1063.5 1006.5h0M1067.5 1005.5h0M1071.5 1006.5h0M1075.5 1005.5h0M1079.5 1004.5h0M1083.5 1004.5h0M1087.5 1002.5h0M1091.5 1008.5h0M1095.5 1006.5h0M1099.5 1006.5h0M1103.5 1005.5h0M1107.5 1003.5h0M1111.5 1002.5h0M1115.5 1001.5h0M1119.5 1001.5h0M1123.5 1000.5h0M1127.5 1005.5h0M1131.5 1004.5h0M1135.5 1004.5h0M1139.5 1004.5h0M1143.5 1005.5h0M1147.5 1006.5h0M1151.5 1005.5h0M1155.5 1005.5h0M1160.5 1004.5h0M1164.5 1004.5h0M1168.5 1004.5h0M1172.5 1004.5h0M1176.5 1005.5h0M1180.5 1005.5h0M1184.5 1006.5h0M1188.5 1006.5h0M1192.5 1007.5h0M1196.5 1006.5h0M1200.5 1007.5h0M1204.5 1007.5h0M1208.5 1007.5h0M1212.5 1007.5h0M1216.5 1006.5h0M1220.5 1006.5h0M1224.5 1007.5h0M1228.5 1007.5h0M1232.5 1007.5h0M1236.5 1007.5h0M1240.5 1007.5h0M1244.5 1007.5h0M1248.5 1008.5h0M1252.5 1008.5h0M1256.5 1008.5h0M1260.5 1008.5h0M1264.5 1008.5h0M1268.5 1008.5h0M1272.5 1009.5h0M1276.5 1009.5h0M1280.5 1008.5h0M1284.5 1009.5h0M1288.5 1008.5h0M1292.5 1008.5h0M1297.5 1008.5h0M1301.5 1008.5h0" stroke="#000" stroke-width="2.6" stroke-linecap="round" fill="none"/>
<path d="M299.5 1008.5h0M303.5 1006.5h0M307.5 1006.5h0M311.5 1004.5h0M315.5 1000.5h0M319.5 1001.5h0M323.5 1000.5h0M327.5 1004.5h0M331.5 1006.5h0M336.5 1005.5h0M340.5 1005.5h0M344.5 1005.5h0M348.5 1004.5h0M352.5 1003.5h0M356.5 1002.5h0M360.5 999.5h0M364.5 1003.5h0M368.5 1004.5h0M372.5 1005.5h0M376.5 1005.5h0M380.5 1005.5h0M384.5 1005.5h0M388.5 1004.5h0M392.5 1004.5h0M396.5 1007.5h0M400.5 1008.5h0M404.5 1006.5h0M408.5 1005.5h0M412.5 1005.5h0M416.5 1003.5h0M420.5 1002.5h0M424.5 1002.5h0M428.5 1001.5h0M434.5 1008.5h0M438.5 1008.5h0M442.5 1007.5h0M446.5 1006.5h0M450.5 1006.5h0M454.5 1005.5h0M458.5 1004.5h0M462.5 1004.5h0M466.5 1003.5h0M470.5 1004.5h0M475.5 1005.5h0M479.5 1005.5h0M483.5 1006.5h0M487.5 1006.5h0M491.5 1007.5h0M495.5 1007.5h0M499.5 1006.5h0M503.5 1007.5h0M507.5 1007.5h0M511.5 1005.5h0M515.5 1005.5h0M519.5 1001.5h0M523.5 1002.5h0M527.5 1002.5h0M531.5 1003.5h0M535.5 1003.5h0M539.5 1004.5h0M543.5 1004.5h0M547.5 1005.5h0M551.5 1005.5h0M555.5 1005.5h0M559.5 1004.5h0M563.5 1005.5h0M567.5 1005.5h0M571.5 1001.5h0M575.5 1002.5h0M579.5 1002.5h0M583.5 1002.5h0M587.5 1002.5h0M591.5 1002.5h0M595.5 1003.5h0M599.5 1002.5h0M603.5 1003.5h0M607.5 1003.5h0M612.5 1002.5h0M616.5 1002.5h0M620.5 1001.5h0M624.5 1001.5h0M628.5 1001.5h0M632.5 999.5h0M636.5 999.5h0M640.5 999.5h0M644.5 998.5h0M648.5 1005.5h0M652.5 1005.5h0M656.5 1005.5h0M660.5 1004.5h0M664.5 1004.5h0M668.5 1004.5h0M672.5 1003.5h0M676.5 1003.5h0M680.5 1002.5h0M684.5 1001.5h0M688.5 1000.5h0M692.5 1007.5h0M696.5 1007.5h0M700.5 1007.5h0M704.5 1008.5h0M708.5 1008.5h0M712.5 1007.5h0M716.5 1007.5h0M720.5 1006.5h0M724.5 1006.5h0M728.5 1005.5h0M732.5 1006.5h0M736.5 1005.5h0M740.5 1006.5h0M744.5 1007.5h0M749.5 1007.5h0M753.5 1008.5h0M757.5 1008.5h0M761.5 1007.5h0M765.5 1004.5h0M769.5 1005.5h0M773.5 1006.5h0M777.5 1006.5h0M781.5 1007.5h0M785.5 1007.5h0M789.5 1007.5h0M793.5 1006.5h0M797.5 1005.5h0M801.5 1004.5h0M805.5 1005.5h0M809.5 1006.5h0M813.5 1007.5h0M817.5 1007.5h0M821.5 1007.5h0M825.5 1007.5h0M829.5 1008.5h0M833.5 1007.5h0M837.5 1007.5h0M841.5 1006.5h0M845.5 1006.5h0M849.5 1006.5h0M853.5 1003.5h0M857.5 1003.5h0M861.5 1004.5h0M865.5 1005.5h0M869.5 1005.5h0M873.5 1007.5h0M877.5 1007.5h0M881.5 1007.5h0M886.5 1008.5h0M890.5 1008.5h0M894.5 1008.5h0M898.5 1007.5h0M902.5 1002.5h0M906.5 1003.5h0M910.5 1005.5h0M914.5 1003.5h0M918.5 1003.5h0M922.5 1002.5h0M926.5 1002.5h0M932.5 1003.5h0M936.5 1004.5h0M940.5 1005.5h0M944.5 1005.5h0M948.5 1006.5h0M952.5 1007.5h0M956.5 1007.5h0M960.5 1008.5h0M964.5 1008.5h0M968.5 1008.5h0M972.5 1008.5h0M976.5 1001.5h0M980.5 1001.5h0M984.5 1002.5h0M988.5 1002.5h0M992.5 1003.5h0M996.5 1003.5h0M1000.5 1004.5h0M1004.5 1003.5h0M1008.5 1003.5h0M1012.5 1003.5h0M1016.5 1003.5h0M1020.5 1008.5h0M1025.5 1003.5h0M1029.5 1003.5h0M1033.5 1003.5h0M1037.5 1004.5h0M1041.5 1003.5h0M1045.5 1002.5h0M1049.5 1002.5h0M1053.5 1001.5h0M1057.5 1008.5h0M1061.5 1007.5h0M1065.5 1006.5h0M1069.5 1006.5h0M1073.5 1006.5h0M1077.5 1005.5h0M1081.5 1004.5h0M1085.5 1003.5h0M1089.5 1002.5h0M1093.5 1007.5h0M1097.5 1006.5h0M1101.5 1006.5h0M1105.5 1004.5h0M1109.5 1003.5h0M1113.5 1002.5h0M1117.5 1001.5h0M1121.5 1001.5h0M1125.5 1005.5h0M1129.5 1005.5h0M1133.5 1004.5h0M1137.5 1004.5h0M1141.5 1004.5h0M1145.5 1006.5h0M1149.5 1005.5h0M1153.5 1005.5h0M1157.5 1005.5h0M1162.5 1004.5h0M1166.5 1003.5h0M1170.5 1004.5h0M1174.5 1005.5h0M1178.5 1005.5h0M1182.5 1004.5h0M1186.5 1006.5h0M1190.5 1006.5h0M1194.5 1007.5h0M1198.5 1007.5h0M1202.5 1007.5h0M1206.5 1007.5h0M1210.5 1007.5h0M1214.5 1006.5h0M1218.5 1007.5h0M1222.5 1007.5h0M1226.5 1007.5h0M1230.5 1007.5h0M1234.5 1007.5h0M1238.5 1007.5h0M1242.5 1007.5h0M1246.5 1008.5h0M1250.5 1008.5h0M1254.5 1007.5h0M1258.5 1007.5h0M1262.5 1007.5h0M1266.5 1008.5h0M1270.5 1008.5h0M1274.5 1008.5h0M1278.5 1008.5h0M1282.5 1009.5h0M1286.5 1009.5h0M1290.5 1009.5h0M1294.5 1008.5h0M1299.5 1007.5h0M1303.5 1007.5h0" stroke="#000" stroke-width="2.6" stroke-linecap="round" fill="none"/>
<path d="M162 955.75h1l1.7 3.55h-4.4zM168 955.75h1l1.7 3.55h-4.4zM174 955.75h1l1.7 3.55h-4.4zM180 955.75h1l1.7 3.55h-4.4zM186 955.75h1l1.7 3.55h-4.4zM192 955.75h1l1.7 3.55h-4.4zM199 955.75h1l1.7 3.55h-4.4zM205 955.75h1l1.7 3.55h-4.4zM211 955.75h1l1.7 3.55h-4.4zM217 955.75h1l1.7 3.55h-4.4zM223 955.75h1l1.7 3.55h-4.4zM229 955.75h1l1.7 3.55h-4.4zM235 955.75h1l1.7 3.55h-4.4zM241 955.75h1l1.7 3.55h-4.4zM247 955.75h1l1.7 3.55h-4.4zM253 955.75h1l1.7 3.55h-4.4zM259 955.75h1l1.7 3.55h-4.4zM265 955.75h1l1.7 3.55h-4.4zM271 955.75h1l1.7 3.55h-4.4zM277 955.75h1l1.7 3.55h-4.4zM283 955.75h1l1.7 3.55h-4.4zM289 955.75h1l1.7 3.55h-4.4zM295 955.75h1l1.7 3.55h-4.4z" fill="#f00"/>
<path d="M164 955.75h1l1.7 3.55h-4.4zM170 955.75h1l1.7 3.55h-4.4zM176 955.75h1l1.7 3.55h-4.4zM182 955.75h1l1.7 3.55h-4.4zM188 955.75h1l1.7 3.55h-4.4zM194 955.75h1l1.7 3.55h-4.4zM201 955.75h1l1.7 3.55h-4.4zM207 955.75h1l1.7 3.55h-4.4zM213 955.75h1l1.7 3.55h-4.4zM219 955.75h1l1.7 3.55h-4.4zM225 955.75h1l1.7 3.55h-4.4zM231 955.75h1l1.7 3.55h-4.4zM237 955.75h1l1.7 3.55h-4.4zM243 955.75h1l1.7 3.55h-4.4zM249 955.75h1l1.7 3.55h-4.4zM255 955.75h1l1.7 3.55h-4.4zM261 955.75h1l1.7 3.55h-4.4zM267 955.75h1l1.7 3.55h-4.4zM273 955.75h1l1.7 3.55h-4.4zM279 955.75h1l1.7 3.55h-4.4zM285 955.75h1l1.7 3.55h-4.4zM291 955.75h1l1.7 3.55h-4.4zM430 955.75h1l1.7 3.55h-4.4z" fill="#f00"/>
<path d="M166 955.75h1l1.7 3.55h-4.4zM172 955.75h1l1.7 3.55h-4.4zM178 955.75h1l1.7 3.55h-4.4zM184 955.75h1l1.7 3.55h-4.4zM190 955.75h1l1.7 3.55h-4.4zM196 955.75h1l1.7 3.55h-4.4zM203 955.75h1l1.7 3.55h-4.4zM209 955.75h1l1.7 3.55h-4.4zM215 955.75h1l1.7 3.55h-4.4zM221 955.75h1l1.7 3.55h-4.4zM227 955.75h1l1.7 3.55h-4.4zM233 955.75h1l1.7 3.55h-4.4zM239 955.75h1l1.7 3.55h-4.4zM245 955.75h1l1.7 3.55h-4.4zM251 955.75h1l1.7 3.55h-4.4zM257 955.75h1l1.7 3.55h-4.4zM263 955.75h1l1.7 3.55h-4.4zM269 955.75h1l1.7 3.55h-4.4zM275 955.75h1l1.7 3.55h-4.4zM281 955.75h1l1.7 3.55h-4.4zM287 955.75h1l1.7 3.55h-4.4zM293 955.75h1l1.7 3.55h-4.4zM930 955.75h1l1.7 3.55h-4.4z" fill="#f00"/>
<path d="M105.5 1009.5H1485.5M105.5 983.5H1485.5M105.5 957.5H1485.5" stroke="#b0b0b0" stroke-width="1.11" stroke-dasharray="1.1111 1.8333" fill="none"/>
<path d="M162.5 1011.5v5M364.5 1011.5v5M565.5 1011.5v5M767.5 1011.5v5M968.5 1011.5v5M1170.5 1011.5v5M1371.5 1011.5v5" stroke="#000" stroke-width="1.11" fill="none"/>
<text x="163.24" y="1032" font-size="13.89" text-anchor="middle">0</text>
<text x="363.71" y="1032" font-size="13.89" text-anchor="middle">100</text>
<text x="565.17" y="1032" font-size="13.89" text-anchor="middle">200</text>
<text x="766.14" y="1032" font-size="13.89" text-anchor="middle">300</text>
<text x="968.11" y="1032" font-size="13.89" text-anchor="middle">400</text>
<text x="1169.58" y="1032" font-size="13.89" text-anchor="middle">500</text>
<text x="1371.04" y="1032" font-size="13.89" text-anchor="middle">600</text>
<path d="M105.5 1009.5h-5M105.5 983.5h-5M105.5 957.5h-5" stroke="#000" stroke-width="1.11" fill="none"/>
<text x="96.68" y="1014" font-size="13.89" text-anchor="end">0</text>
<text x="95.98" y="988" font-size="13.89" text-anchor="end">5</text>
<text x="95.38" y="962" font-size="13.89" text-anchor="end">10</text>
<path d="M105.5 996.5h-3.1M105.5 970.5h-3.1" stroke="#000" stroke-width="0.83" fill="none"/>
<path d="M162 1011V954" stroke="#800080" stroke-width="2.08" stroke-dasharray="2.0833 3.4375" fill="none"/>
<path d="M1303 1011V954" stroke="#800080" stroke-width="2.08" stroke-dasharray="2.0833 3.4375" fill="none"/>
<rect x="105.5" y="954.5" width="1380" height="57" fill="none" stroke="#000" stroke-width="1.11"/>
<text transform="translate(68.6 984.38) rotate(-90)" font-size="13.89" text-anchor="middle">dr</text>
</g>
</svg>
</body>
</html>
